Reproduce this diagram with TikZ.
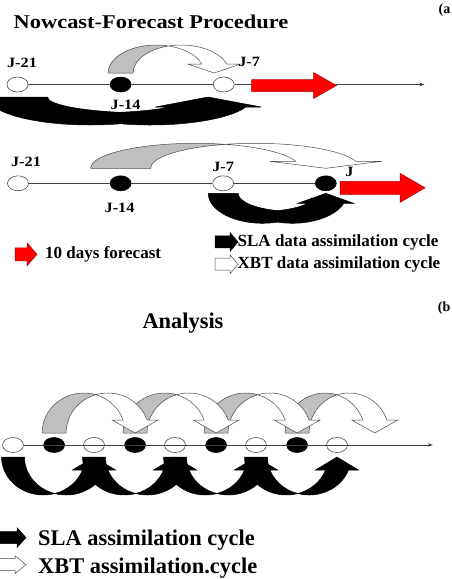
\documentclass[tikz,border=0pt]{standalone}
\usepackage{fontspec}
\setmainfont{Liberation Serif}
\newfontfamily\widefont{Liberation Serif}[FakeStretch=1.15]
\usetikzlibrary{positioning,shapes.geometric,arrows.meta}
\pgfdeclarelayer{arcback}
\pgfsetlayers{arcback,main}

% shape of the bent block arrows: base width, height, head length, head overhang, inner shrink
\newdimen\benddim
\newcommand{\bendshape}[5]{\def\bendw{#1}\def\bendry{#2}\def\bendhl{#3}\def\bendext{#4}\def\bendth{#5}}
% #1 side (1 over the axis, -1 under it), #2 back style, #3 front style, #4 from, #5 to, #6 gap to the axis
\newcommand{\bendarrow}[6]{%
  \pgfextractx{\benddim}{\pgfpointanchor{#4}{center}}\pgfmathsetmacro{\bendxa}{\benddim}%
  \pgfextracty{\benddim}{\pgfpointanchor{#4}{center}}\pgfmathsetmacro{\bendya}{\benddim}%
  \pgfextractx{\benddim}{\pgfpointanchor{#5}{center}}\pgfmathsetmacro{\bendxb}{\benddim}%
  \pgfmathsetmacro{\bendri}{\bendry-\bendth}%
  \pgfmathsetmacro{\bendfo}{sqrt(1-(\bendhl/\bendry)^2)}%
  \pgfmathsetmacro{\bendfi}{sqrt(1-(\bendhl/\bendri)^2)}%
  \pgfmathsetmacro{\bendrx}{(\bendxb-\bendxa)/(1+(\bendfo+\bendfi)/2)}%
  \pgfmathsetmacro{\bendtc}{acos(\bendw/(2*\bendrx))}%
  \pgfmathsetmacro{\bendpo}{asin(\bendhl/\bendry)}%
  \pgfmathsetmacro{\bendpi}{asin(\bendhl/\bendri)}%
  \begin{scope}[shift={(\bendxa-\bendw/2,\bendya+#1*#6)}, yscale=#1]
    \begin{pgfonlayer}{arcback}
      \filldraw[#2] (0,0)
        arc[start angle=180, end angle=\bendtc, x radius=\bendrx, y radius=\bendry]
        -- ({\bendrx+\bendw/2},{\bendri*sin(\bendtc)})
        arc[start angle=180-\bendtc, end angle=180, x radius=\bendrx, y radius=\bendri] -- cycle;
    \end{pgfonlayer}
    \filldraw[#3] ({\bendrx+\bendw/2},{\bendry*sin(\bendtc)})
      arc[start angle=180-\bendtc, end angle=\bendpo, x radius=\bendrx, y radius=\bendry]
      -- ++(\bendext,0) -- ({\bendxb-\bendxa+\bendw/2},0)
      -- ({\bendrx*(1+\bendfi)-\bendext},\bendhl) -- ({\bendrx*(1+\bendfi)},\bendhl)
      arc[start angle=\bendpi, end angle=\bendtc, x radius=\bendrx, y radius=\bendri] -- cycle;
  \end{scope}}
\newcommand{\xbtarc}[3]{\bendarrow{1}{xbtback}{xbtfront}{#1}{#2}{#3}}
\newcommand{\slaarc}[3]{\bendarrow{-1}{slafill}{slafill}{#1}{#2}{#3}}
% #1 style, #2 tail, #3 length, #4 shaft width, #5 head width, #6 head length
\newcommand{\blockarrow}[6]{%
  \filldraw[#1] ([yshift={#4*0.5pt}]#2) -- ++({#3-#6},0) -- ++(0,{(#5-#4)/2}) -- ++(#6,{-#5/2})
    -- ++({-#6},{-#5/2}) -- ++(0,{(#5-#4)/2}) -- ++({#6-#3},0) -- cycle;}

\begin{document}
\begin{tikzpicture}[x=1pt, y=1pt,
    opencyc/.style={ellipse, draw=black!70, fill=white, line width=0.6pt, minimum width=21pt, minimum height=15pt, inner sep=0pt},
    fullcyc/.style={opencyc, draw=black, fill=black},
    timeaxis/.style={draw=black!75, line width=0.6pt},
    xbtback/.style={fill=black!25, draw=black!70, line width=0.5pt},
    xbtfront/.style={fill=white, draw=black!70, line width=0.5pt},
    slafill/.style={fill=black, draw=black, line width=0.5pt},
    fcast/.style={fill=red, draw=red!70!black, line width=0.5pt},
    lbl/.style={inner sep=0pt, font=\widefont\bfseries\fontsize{14.2}{16}\selectfont},
    headfont/.style={inner sep=0pt, font=\widefont\bfseries\fontsize{19.5}{23}\selectfont},
    tagfont/.style={inner sep=0pt, font=\bfseries\fontsize{14}{16}\selectfont},
    legfont/.style={inner sep=0pt, font=\bfseries\fontsize{17}{20}\selectfont},
    bigfont/.style={inner sep=0pt, font=\bfseries\fontsize{22.4}{26}\selectfont}]
  \useasboundingbox (0,0) rectangle (451,-579);

  % (a) nowcast-forecast
  \node[headfont, anchor=base west] (ttl) at (13.5,-28) {Nowcast-Forecast Procedure};
  \node[tagfont, anchor=base east] (taga) at (450.5,-13.5) {(a};

  \node[opencyc] (p21) at (17.5,-84.5) {};
  \node[fullcyc, right=81.5pt of p21] (p14) {};
  \node[opencyc, right=81.5pt of p14] (p7) {};
  \coordinate[right=190pt of p7] (p0);
  \coordinate[xshift=-9.5pt] (g7) at (p7);
  \coordinate[xshift=-15.5pt] (k7) at (p7);
  \draw[timeaxis, -{Stealth[length=5pt, width=3.5pt]}] (p21) -- (p14) -- (p7) -- (p0);
  \coordinate[right=17pt of p7, yshift=-1pt] (r1);
  \blockarrow{fcast}{r1}{85}{12}{26}{23}

  \bendshape{25}{28}{9}{14}{0}
  \xbtarc{p14}{g7}{11.5}
  \bendshape{60}{28}{10}{15}{12}
  \slaarc{p21}{k7}{12.5}

  \node[lbl, above=9pt of p21, xshift=4.5pt] (t21) {J-21};
  \node[lbl, below=8pt of p14, xshift=5pt] (t14) {J-14};
  \node[lbl, above=10pt of p7, xshift=25.5pt] (t7) {J-7};

  \node[opencyc] (q21) at (18,-183.3) {};
  \node[fullcyc, right=81pt of q21] (q14) {};
  \node[opencyc, right=81pt of q14] (q7) {};
  \node[fullcyc, right=81pt of q7] (q0) {};
  \draw[timeaxis] (q21) -- (q14) -- (q7) -- (q0);
  \coordinate[right=3.5pt of q0, yshift=-4.5pt] (r2);
  \blockarrow{fcast}{r2}{85}{13}{29}{25}

  \bendshape{60}{25}{7}{26}{0}
  \xbtarc{q14}{q0}{15}
  \bendshape{30}{30}{10}{10}{12}
  \slaarc{q7}{q0}{10}

  \node[lbl, above=8.8pt of q21, xshift=8pt] (u21) {J-21};
  \node[lbl, below=12pt of q14, xshift=-1pt] (u14) {J-14};
  \node[lbl, above=3.8pt of q7] (u7) {J-7};
  \node[lbl, right=8.5pt of q0, yshift=11pt] (u0) {J};

  \node[legfont, anchor=base west] (l1) at (45,-258.5) {10 days forecast};
  \node[legfont, anchor=base west] (l2) at (237.5,-246) {SLA data assimilation cycle};
  \node[legfont, anchor=base west] (l3) at (237.5,-268.3) {XBT data assimilation cycle};
  \coordinate[left=30pt of l1] (i1);
  \coordinate[left=22.5pt of l2] (i2);
  \coordinate[left=22.5pt of l3] (i3);
  \blockarrow{fcast}{i1}{22}{13}{23}{10}
  \blockarrow{slafill}{i2}{23}{12}{19}{8}
  \blockarrow{xbtfront}{i3}{23}{12}{19}{8}

  % (b) analysis
  \node[tagfont, anchor=base east] (tagb) at (450.5,-311.5) {(b};
  \node[bigfont, anchor=base] (anl) at (183,-328) {Analysis};

  \foreach \k in {0,...,4}
    \node[opencyc] (o\k) at (13+81*\k,-445) {};
  \foreach \k in {0,...,3}
    \node[fullcyc, right=19.5pt of o\k] (f\k) {};
  \coordinate[right=27pt of o4] (f4);
  \coordinate[right=85pt of o4] (bend);
  \draw[timeaxis, -{Stealth[length=5pt, width=3.5pt]}] (o0)
    foreach \k [evaluate=\k as \j using int(\k+1)] in {0,...,3} {-- (f\k) -- (o\j)} -- (bend);

  \bendshape{24}{40}{13}{11}{0}
  \foreach \k [evaluate=\k as \j using int(\k+1)] in {0,...,3} {\xbtarc{f\k}{f\j}{12}}
  \bendshape{23}{38}{13}{10}{0}
  \foreach \k [evaluate=\k as \j using int(\k+1)] in {0,...,3} {\slaarc{o\k}{o\j}{12}}

  \node[bigfont, anchor=base west] (m1) at (38,-545) {SLA assimilation cycle};
  \node[bigfont, anchor=base west] (m2) at (38,-573) {XBT assimilation.cycle};
  \coordinate[left=43pt of m1, yshift=2pt] (j1);
  \coordinate[left=43pt of m2, yshift=3pt] (j2);
  \blockarrow{slafill}{j1}{31}{12}{20}{9}
  \blockarrow{xbtfront}{j2}{31}{12}{18}{11}
\end{tikzpicture}
\end{document}
